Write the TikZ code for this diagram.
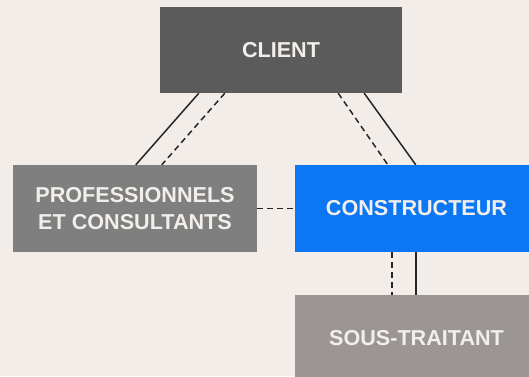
\documentclass[tikz,border=0pt]{standalone}
\usepackage{fontspec}
\setmainfont{Liberation Sans}
\usetikzlibrary{calc}
\definecolor{bgc}{HTML}{F3EDE9}
\definecolor{clientc}{HTML}{5B5B5B}
\definecolor{profc}{HTML}{7F7F7F}
\definecolor{bluec}{HTML}{0B77F5}
\definecolor{sousc}{HTML}{9B9693}
\definecolor{txtc}{HTML}{F2EEEA}
\tikzset{
  boxnode/.style={rectangle, inner sep=0pt, text=txtc, align=center,
    font=\fontsize{21.6}{26.7}\selectfont\bfseries, minimum height=87pt},
  solidlink/.style={line width=1.5pt, black!85},
  dashlink/.style={line width=1.5pt, black!85, dash pattern=on 6pt off 4pt},
}
\begin{document}
\begin{tikzpicture}[x=1pt,y=-1pt]
\clip (0,0) rectangle (529,376);
\fill[bgc] (0,0) rectangle (529,376);
\node[boxnode, fill=clientc, minimum width=242pt, minimum height=86pt] (client) at (281,50) {CLIENT};
\node[boxnode, fill=profc, minimum width=244pt] (prof) at (135,208.5) {PROFESSIONNELS\\ET CONSULTANTS};
\node[boxnode, fill=bluec, minimum width=243pt] (cons) at (416.5,208.5) {CONSTRUCTEUR};
\node[boxnode, fill=sousc, minimum width=243pt] (sous) at (416.5,338.5) {SOUS-TRAITANT};
\draw[solidlink] ($(client.south west)+(39,0)$) -- ($(prof.north west)+(123,0)$);
\draw[dashlink] ($(client.south west)+(65,0)$) -- ($(prof.north west)+(149,0)$);
\draw[dashlink] ($(client.south east)+(-64,0)$) -- ($(cons.north west)+(93,0)$);
\draw[solidlink] ($(client.south east)+(-38,0)$) -- ($(cons.north west)+(121,0)$);
\draw[dashlink] (prof.east) -- (cons.west);
\draw[dashlink] ($(cons.south west)+(97,0)$) -- ($(sous.north west)+(97,0)$);
\draw[solidlink] ($(cons.south west)+(121,0)$) -- ($(sous.north west)+(121,0)$);
\end{tikzpicture}
\end{document}
